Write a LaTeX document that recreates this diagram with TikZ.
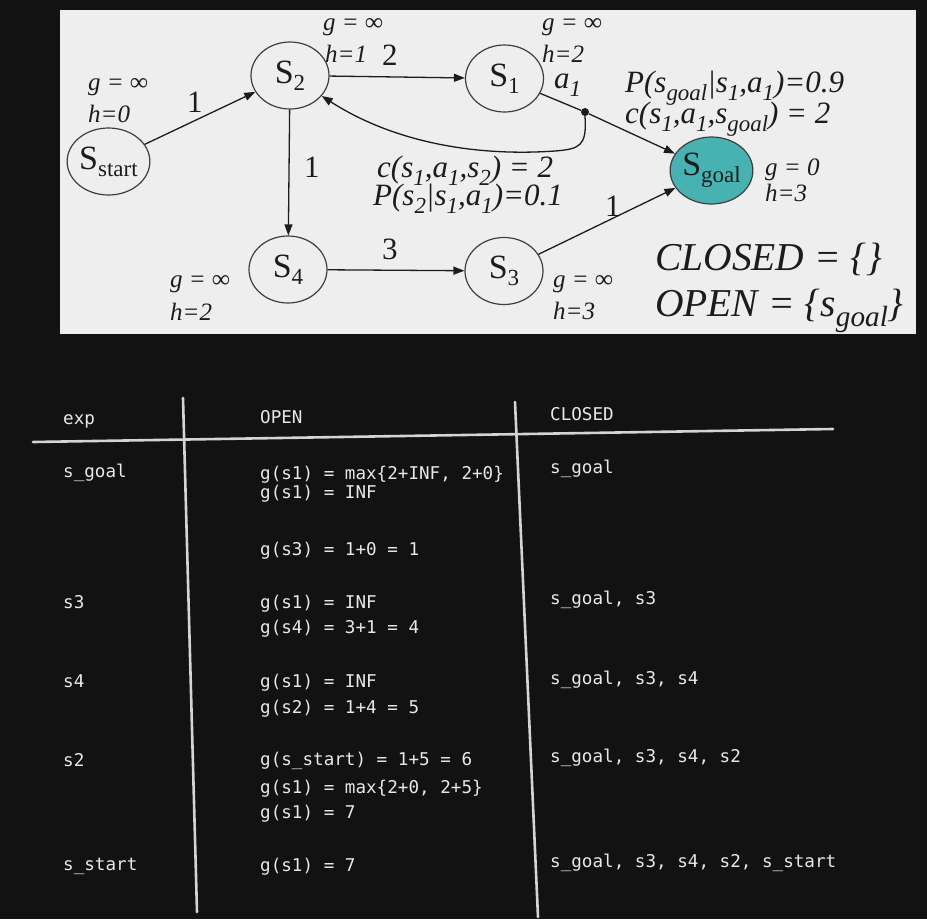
\documentclass[tikz,border=0pt]{standalone}
\usepackage{fontspec}
\setmainfont{Liberation Serif}
\newfontfamily\handfont{DejaVu Sans Mono}
\usetikzlibrary{shapes.geometric,arrows.meta}
\definecolor{bgdark}{RGB}{18,18,18}
\definecolor{panel}{RGB}{238,238,238}
\definecolor{goalfill}{RGB}{72,178,178}
\definecolor{ink}{RGB}{28,28,28}
\definecolor{chalk}{RGB}{232,232,232}
\definecolor{rulecol}{RGB}{212,212,212}
\newcommand{\lowsub}[1]{\raisebox{-0.27em}{\scalebox{0.74}{#1}}}
\newcommand{\nodesub}[1]{\raisebox{-7pt}{\fontsize{23}{23}\selectfont #1}}
\begin{document}
\begin{tikzpicture}[x=1pt,y=-1pt,
  state/.style={ellipse,draw=ink!85,line width=1.2pt,minimum width=78pt,minimum height=67pt,inner sep=0pt,font=\fontsize{34}{34}\selectfont,text=ink},
  lab/.style={anchor=base west,inner sep=0pt,font=\fontsize{25}{25}\selectfont\itshape,text=ink},
  wt/.style={anchor=base west,inner sep=0pt,font=\fontsize{31}{31}\selectfont,text=ink},
  prob/.style={anchor=base west,inner sep=0pt,font=\fontsize{31}{31}\selectfont\itshape,text=ink},
  bigset/.style={anchor=base west,inner sep=0pt,font=\fontsize{39.5}{39.5}\selectfont\itshape,text=ink},
  edgeline/.style={draw=ink,line width=1.3pt},
  arr/.style={edgeline,-{Triangle[length=11pt,width=8pt]}},
  cell/.style={anchor=base west,inner sep=0pt,font=\handfont\fontsize{17.6}{17.6}\selectfont,text=chalk},
  rulel/.style={draw=rulecol,line width=2.6pt,line cap=round}
]
\useasboundingbox (0,0) rectangle (927,919);
\fill[bgdark] (0,0) rectangle (927,919);
\fill[panel] (60,10) rectangle (916,334);

% states
\node[state] (Ss) at (108.5,161.5) {S\nodesub{start}};
\node[state] (S2) at (290,75.5) {S\nodesub{2}};
\node[state] (S1) at (504.5,78.5) {S\nodesub{1}};
\node[state,fill=goalfill] (Sg) at (711.5,170.5) {S\nodesub{goal}};
\node[state] (S4) at (288,269.5) {S\nodesub{4}};
\node[state] (S3) at (504,271) {S\nodesub{3}};
\node[circle,fill=ink,inner sep=0pt,minimum size=8pt] (dot) at (585,112) {};

% edges
\draw[arr] (Ss) -- (S2);
\draw[arr] (S2) -- (S1);
\draw[arr] (S2) -- (S4);
\draw[arr] (S4) -- (S3);
\draw[arr] (S3) -- (Sg);
\draw[edgeline] (S1) -- (dot);
\draw[arr] (dot) -- (Sg);
\draw[arr] (dot.south) .. controls (587,146) and (580,149) .. (555,151) .. controls (470,157) and (390,140) .. (S2);

% edge weights
\node[wt] (w1) at (187,112) {1};
\node[wt] (w2) at (382,65) {2};
\node[wt] (w3) at (304,177) {1};
\node[wt] (w4) at (382,259) {3};
\node[wt] (w5) at (605,216) {1};

% g/h labels
\node[lab] (gS) at (88,90) {g = ∞};
\node[lab] (hS) at (88,122) {h=0};
\node[lab] (g2) at (323,30) {g = ∞};
\node[lab] (h2) at (325,62) {h=1};
\node[lab] (g1) at (542,30) {g = ∞};
\node[lab] (h1) at (542,62) {h=2};
\node[lab] (gG) at (765,175) {g = 0};
\node[lab] (hG) at (765,201) {h=3};
\node[lab] (g4) at (170,287) {g = ∞};
\node[lab] (h4) at (170,320) {h=2};
\node[lab] (g3) at (553,287) {g = ∞};
\node[lab] (h3) at (553,319) {h=3};
\node[prob] (a1) at (554,88) {a\lowsub{1}};

% probabilities and costs
\node[prob] (pg) at (625,92) {P(s\lowsub{goal}|s\lowsub{1},a\lowsub{1})=0.9};
\node[prob] (cg) at (625,123) {c(s\lowsub{1},a\lowsub{1},s\lowsub{goal}) = 2};
\node[prob] (c2) at (377,177) {c(s\lowsub{1},a\lowsub{1},s\lowsub{2}) = 2};
\node[prob] (p2) at (373,205) {P(s\lowsub{2}|s\lowsub{1},a\lowsub{1})=0.1};
\node[bigset] (cl) at (655,270) {CLOSED = \{\}};
\node[bigset] (op) at (655,316) {OPEN = \{s\lowsub{goal}\}};

% table rules
\coordinate (hl) at (33,442);
\coordinate (hr) at (833,429);
\coordinate (v1t) at (183,398);
\coordinate (v1b) at (197,912);
\coordinate (v2t) at (515,402);
\coordinate (v2b) at (538,917);
\draw[rulel] (hl) -- (hr);
\draw[rulel] (v1t) -- (v1b);
\draw[rulel] (v2t) -- (v2b);

% table header
\node[cell] (th1) at (63,424) {exp};
\node[cell] (th2) at (260,423) {OPEN};
\node[cell] (th3) at (550,420) {CLOSED};

% row 1
\node[cell] (r1a) at (63,477) {s\_goal};
\node[cell] (r1b) at (260,479) {g(s1) = max\{2+INF, 2+0\}};
\node[cell] (r1c) at (260,498) {g(s1) = INF};
\node[cell] (r1d) at (260,555) {g(s3) = 1+0 = 1};
\node[cell] (r1e) at (550,473) {s\_goal};

% row 2
\node[cell] (r2a) at (63,608) {s3};
\node[cell] (r2b) at (260,608) {g(s1) = INF};
\node[cell] (r2c) at (260,633) {g(s4) = 3+1 = 4};
\node[cell] (r2d) at (550,604) {s\_goal, s3};

% row 3
\node[cell] (r3a) at (63,687) {s4};
\node[cell] (r3b) at (260,687) {g(s1) = INF};
\node[cell] (r3c) at (260,713) {g(s2) = 1+4 = 5};
\node[cell] (r3d) at (550,684) {s\_goal, s3, s4};

% row 4
\node[cell] (r4a) at (63,766) {s2};
\node[cell] (r4b) at (260,765) {g(s\_start) = 1+5 = 6};
\node[cell] (r4c) at (260,793) {g(s1) = max\{2+0, 2+5\}};
\node[cell] (r4d) at (260,818) {g(s1) = 7};
\node[cell] (r4e) at (550,762) {s\_goal, s3, s4, s2};

% row 5
\node[cell] (r5a) at (63,870) {s\_start};
\node[cell] (r5b) at (260,871) {g(s1) = 7};
\node[cell] (r5c) at (550,867) {s\_goal, s3, s4, s2, s\_start};
\end{tikzpicture}
\end{document}
